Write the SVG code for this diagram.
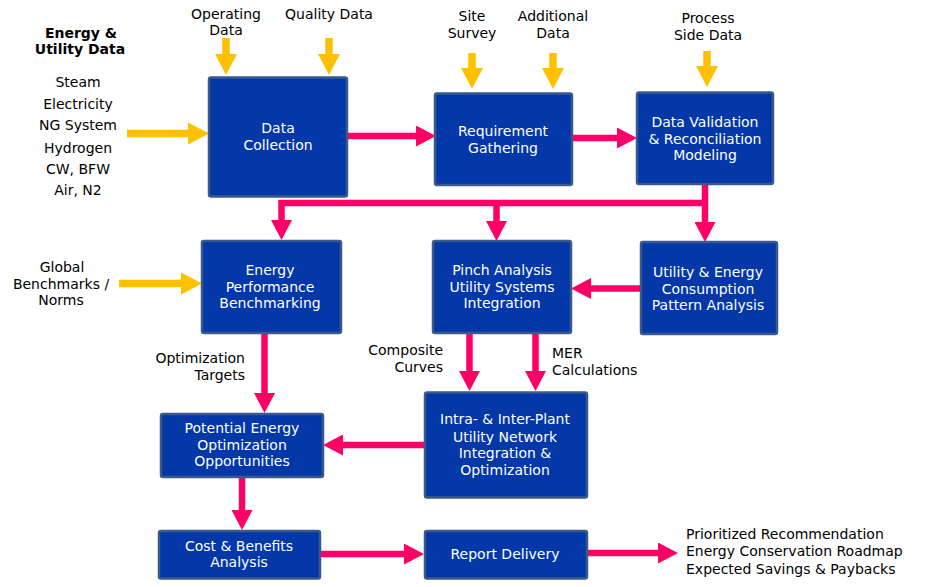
<svg xmlns="http://www.w3.org/2000/svg" width="926" height="587" viewBox="0 0 926 587">
<style>
.box{fill:#0437A8;stroke:#3B5A8C;stroke-width:2.5}
.bt{font-family:"DejaVu Sans",Verdana,sans-serif;font-size:14px;fill:#FFFFFF;text-anchor:middle}
.lt{font-family:"DejaVu Sans",Verdana,sans-serif;font-size:14px;fill:#000000}
.c{text-anchor:middle}
.r{text-anchor:end}
.b{font-weight:bold}
.pk{fill:none;stroke:#FF0066;stroke-width:6.5;stroke-linejoin:miter;marker-end:url(#hp)}
.yl{fill:none;stroke:#FFC000;stroke-width:7.5;marker-end:url(#hy)}
</style>
<defs>
<marker id="hp" markerUnits="userSpaceOnUse" markerWidth="20" markerHeight="21" refX="0" refY="10.5" orient="auto" viewBox="0 0 20 21">
<path d="M0,0 L20,10.5 L0,21 Z" fill="#FF0066"/>
</marker>
<marker id="hy" markerUnits="userSpaceOnUse" markerWidth="21" markerHeight="22" refX="0" refY="11" orient="auto" viewBox="0 0 21 22">
<path d="M0,0 L21,11 L0,22 Z" fill="#FFC000"/>
</marker>
</defs>
<rect width="926" height="587" fill="#FFFFFF"/>

<g id="inputs">
<text class="lt c b" x="81" y="38">Energy &amp;</text>
<text class="lt c b" x="80" y="54">Utility Data</text>
<text class="lt c" x="78" y="87">Steam</text>
<text class="lt c" x="78" y="109">Electricity</text>
<text class="lt c" x="78" y="130">NG System</text>
<text class="lt c" x="78" y="153">Hydrogen</text>
<text class="lt c" x="78" y="174">CW, BFW</text>
<text class="lt c" x="78" y="195">Air, N2</text>
<text class="lt c" x="226" y="18.5">Operating</text>
<text class="lt c" x="226" y="35">Data</text>
<text class="lt c" x="329" y="18.5">Quality Data</text>
<text class="lt c" x="472" y="21">Site</text>
<text class="lt c" x="472" y="38">Survey</text>
<text class="lt c" x="553" y="21">Additional</text>
<text class="lt c" x="553" y="38">Data</text>
<text class="lt c" x="708" y="23">Process</text>
<text class="lt c" x="708" y="39.5">Side Data</text>
<text class="lt c" x="62" y="272">Global</text>
<text class="lt c" x="61" y="288.5">Benchmarks /</text>
<text class="lt c" x="61" y="305">Norms</text>
<text class="lt r" x="245" y="363">Optimization</text>
<text class="lt r" x="245" y="379.5">Targets</text>
<text class="lt r" x="443" y="355">Composite</text>
<text class="lt r" x="443" y="372">Curves</text>
<text class="lt" x="552" y="358">MER</text>
<text class="lt" x="552" y="374.5">Calculations</text>
<text class="lt" x="686" y="539">Prioritized Recommendation</text>
<text class="lt" x="686" y="555.5">Energy Conservation Roadmap</text>
<text class="lt" x="686" y="574">Expected Savings &amp; Paybacks</text>
</g>

<g id="connectors">
<path class="yl" d="M226,38 V54"/>
<path class="yl" d="M329,38 V54"/>
<path class="yl" d="M472,53 V68"/>
<path class="yl" d="M553,53 V68"/>
<path class="yl" d="M707,51 V66"/>
<path class="yl" d="M127,133.5 H188"/>
<path class="yl" d="M119,283.5 H181"/>
<path class="pk" d="M347,136 H416"/>
<path class="pk" d="M572,138 H617"/>
<path class="pk" d="M705,184 V222"/>
<path class="pk" d="M705,203 H281.5 V220"/>
<path class="pk" d="M496.5,203 V221"/>
<path class="pk" d="M641,288.5 H591"/>
<path class="pk" d="M264.5,333 V393"/>
<path class="pk" d="M469.5,333 V371"/>
<path class="pk" d="M535.5,333 V371"/>
<path class="pk" d="M424,445 H343"/>
<path class="pk" d="M242,477 V510"/>
<path class="pk" d="M321,554 H404"/>
<path class="pk" d="M587,553 H658"/>
</g>

<g id="data-collection">
<rect class="box" x="209" y="77.5" width="138" height="119" rx="2"/>
<text class="bt" x="278" y="133">Data</text>
<text class="bt" x="278" y="150">Collection</text>
</g>
<g id="requirement-gathering">
<rect class="box" x="435" y="93.5" width="137" height="91.5" rx="2"/>
<text class="bt" x="503" y="136">Requirement</text>
<text class="bt" x="503" y="153">Gathering</text>
</g>
<g id="data-validation">
<rect class="box" x="637" y="92.5" width="136" height="91.5" rx="2"/>
<text class="bt" x="705" y="127">Data Validation</text>
<text class="bt" x="705" y="143.5">&amp; Reconciliation</text>
<text class="bt" x="705" y="160">Modeling</text>
</g>
<g id="energy-performance">
<rect class="box" x="202" y="241" width="139" height="92" rx="2"/>
<text class="bt" x="270" y="275">Energy</text>
<text class="bt" x="270" y="291.5">Performance</text>
<text class="bt" x="270" y="308">Benchmarking</text>
</g>
<g id="pinch-analysis">
<rect class="box" x="433" y="241" width="138" height="92" rx="2"/>
<text class="bt" x="502" y="274.5">Pinch Analysis</text>
<text class="bt" x="502" y="291.5">Utility Systems</text>
<text class="bt" x="502" y="308">Integration</text>
</g>
<g id="utility-energy">
<rect class="box" x="641" y="242" width="136" height="92" rx="2"/>
<text class="bt" x="708" y="277">Utility &amp; Energy</text>
<text class="bt" x="708" y="293.5">Consumption</text>
<text class="bt" x="708" y="310">Pattern Analysis</text>
</g>
<g id="potential-energy">
<rect class="box" x="161" y="414" width="162" height="63" rx="2"/>
<text class="bt" x="242" y="433">Potential Energy</text>
<text class="bt" x="242" y="449.5">Optimization</text>
<text class="bt" x="242" y="466">Opportunities</text>
</g>
<g id="intra-inter-plant">
<rect class="box" x="425" y="392.5" width="162" height="105" rx="2"/>
<text class="bt" x="505" y="424">Intra- &amp; Inter-Plant</text>
<text class="bt" x="505" y="441.5">Utility Network</text>
<text class="bt" x="505" y="458">Integration &amp;</text>
<text class="bt" x="505" y="474.5">Optimization</text>
</g>
<g id="cost-benefits">
<rect class="box" x="159" y="531" width="161" height="47.5" rx="2"/>
<text class="bt" x="239" y="550.5">Cost &amp; Benefits</text>
<text class="bt" x="239" y="567">Analysis</text>
</g>
<g id="report-delivery">
<rect class="box" x="425" y="531" width="162" height="47.5" rx="2"/>
<text class="bt" x="505" y="558.5">Report Delivery</text>
</g>
</svg>
